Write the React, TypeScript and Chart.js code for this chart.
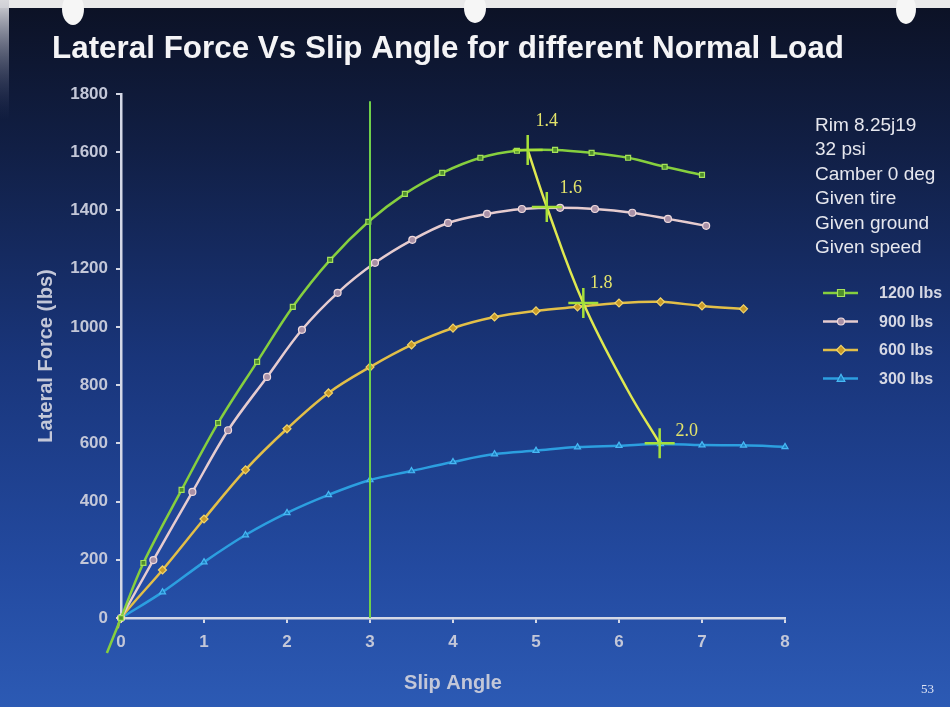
import React, { useEffect, useRef } from "react";
import { Chart, registerables } from "chart.js";

Chart.register(...registerables);

// ---------- data ----------
const seriesLabels = ["1200 lbs", "900 lbs", "600 lbs", "300 lbs"];

const slip1200 = [-0.17, 0, 0.27, 0.73, 1.17, 1.64, 2.07, 2.52, 2.98, 3.42, 3.87, 4.33, 4.77, 5.23, 5.67, 6.11, 6.55, 7.0];
const force1200 = [-120, 0, 189, 440, 670, 880, 1069, 1230, 1361, 1457, 1529, 1581, 1605, 1608, 1598, 1581, 1550, 1522];

const slip900 = [0, 0.39, 0.86, 1.29, 1.76, 2.18, 2.61, 3.06, 3.51, 3.94, 4.41, 4.83, 5.29, 5.71, 6.16, 6.59, 7.05];
const force900 = [0, 199, 433, 645, 828, 990, 1117, 1220, 1299, 1357, 1388, 1405, 1409, 1405, 1392, 1371, 1347];

const slip600 = [-0.04, 0, 0.5, 1, 1.5, 2, 2.5, 3, 3.5, 4, 4.5, 5, 5.5, 6, 6.5, 7, 7.5];
const force600 = [-35, 0, 165, 340, 509, 650, 773, 862, 938, 996, 1034, 1055, 1069, 1082, 1086, 1072, 1062];

const slip300 = [0, 0.5, 1, 1.5, 2, 2.5, 3, 3.5, 4, 4.5, 5, 5.5, 6, 6.5, 7, 7.5, 8];
const force300 = [0, 89, 192, 285, 361, 423, 474, 505, 536, 563, 575, 587, 592, 598, 594, 593, 588];

const refSlip = 3;
const refForceTop = 1775;

const contourSlip = [4.9, 5.13, 5.57, 6.1, 6.49];
const contourForce = [1608, 1412, 1082, 785, 600];

const crossSlip = [4.9, 5.13, 5.57, 6.49];
const crossForce = [1608, 1412, 1082, 600];
const crossLabels = ["1.4", "1.6", "1.8", "2.0"];

const xMin = 0, xMax = 8, xStep = 1;
const yMin = 0, yMax = 1800, yStep = 200;

const titleText = "Lateral Force Vs Slip Angle for different Normal Load";
const xTitle = "Slip Angle";
const yTitle = "Lateral Force (lbs)";
const infoLines = ["Rim 8.25j19", "32 psi", "Camber 0 deg", "Given tire", "Given ground", "Given speed"];
const pageNumber = "53";

// ---------- styles ----------
const SANS = "'Liberation Sans', Arial, sans-serif";
const SERIF = "'Liberation Serif', 'DejaVu Serif', serif";
const seriesStyle = [
  { line: "#86cf3e", fill: "#4f8f2c", border: "#a6e25a", shape: "rect" },
  { line: "#e6cccf", fill: "#a890a6", border: "#f0dadd", shape: "circle" },
  { line: "#e2bf48", fill: "#c89a28", border: "#f2d468", shape: "rectRot" },
  { line: "#2c9fe0", fill: "#1f7fc0", border: "#48b8f4", shape: "triangle" },
];
const tickColor = "#c3c7d8";
const axisColor = "#d4d8e6";

function toPts(xs: number[], ys: number[]) {
  return xs.map((x, i) => ({ x, y: ys[i] }));
}

function drawMarker(ctx: CanvasRenderingContext2D, shape: string, x: number, y: number, r: number) {
  ctx.beginPath();
  if (shape === "rect") {
    ctx.rect(x - r, y - r, 2 * r, 2 * r);
  } else if (shape === "circle") {
    ctx.arc(x, y, r, 0, Math.PI * 2);
  } else if (shape === "rectRot") {
    ctx.moveTo(x, y - r * 1.3);
    ctx.lineTo(x + r * 1.3, y);
    ctx.lineTo(x, y + r * 1.3);
    ctx.lineTo(x - r * 1.3, y);
    ctx.closePath();
  } else {
    ctx.moveTo(x, y - r * 1.2);
    ctx.lineTo(x + r * 1.1, y + r * 0.8);
    ctx.lineTo(x - r * 1.1, y + r * 0.8);
    ctx.closePath();
  }
  ctx.fill();
  ctx.stroke();
}

const backgroundPlugin = {
  id: "slideBackground",
  beforeDraw(chart: any) {
    const { ctx, width, height } = chart;
    ctx.save();
    const g = ctx.createLinearGradient(0, 8, 0, height);
    g.addColorStop(0, "#0c1226");
    g.addColorStop(0.2, "#111f45");
    g.addColorStop(0.5, "#19357a");
    g.addColorStop(0.8, "#234aa0");
    g.addColorStop(1, "#2c5ab4");
    ctx.fillStyle = g;
    ctx.fillRect(0, 0, width, height);
    // paper edge
    ctx.fillStyle = "#e9e9ea";
    ctx.fillRect(0, 0, width, 8);
    const lg = ctx.createLinearGradient(0, 0, 0, 120);
    lg.addColorStop(0, "#d8d8dc");
    lg.addColorStop(1, "rgba(60,70,110,0)");
    ctx.fillStyle = lg;
    ctx.fillRect(0, 0, 9, 120);
    // binder holes
    ctx.fillStyle = "#f6f6f6";
    [[73, 9, 11, 16], [475, 8, 11, 15], [906, 9, 10, 15]].forEach(([cx, cy, rx, ry]) => {
      ctx.beginPath();
      ctx.ellipse(cx, cy, rx, ry, 0, 0, Math.PI * 2);
      ctx.fill();
    });
    // title
    ctx.fillStyle = "#f4f4f6";
    ctx.font = `bold 31.4px ${SANS}`;
    ctx.textBaseline = "alphabetic";
    ctx.textAlign = "left";
    ctx.fillText(titleText, 52, 58);
    // info text
    ctx.fillStyle = "#e6e7ee";
    ctx.font = `19px ${SANS}`;
    infoLines.forEach((t, i) => ctx.fillText(t, 815, 131 + i * 24.4));
    // page number
    ctx.fillStyle = "#dfe4f4";
    ctx.font = `13px ${SERIF}`;
    ctx.fillText(pageNumber, 921, 693);
    ctx.restore();
  },
  afterDraw(chart: any) {
    const { ctx } = chart;
    ctx.save();
    // legend
    seriesLabels.forEach((label, i) => {
      const st = seriesStyle[i];
      const y = 293 + i * 28.5;
      ctx.strokeStyle = st.line;
      ctx.lineWidth = 2.5;
      ctx.beginPath();
      ctx.moveTo(823, y);
      ctx.lineTo(858, y);
      ctx.stroke();
      ctx.fillStyle = st.fill;
      ctx.strokeStyle = st.border;
      ctx.lineWidth = 1.2;
      drawMarker(ctx, st.shape, 841, y, 3.5);
      ctx.fillStyle = "#d6d8e4";
      ctx.font = `bold 16px ${SANS}`;
      ctx.textAlign = "left";
      ctx.textBaseline = "middle";
      ctx.fillText(label, 879, y + 1);
    });
    // contour labels
    const xs = chart.scales.x;
    const ys = chart.scales.y;
    const offs = [[19, -29], [24, -19], [18, -20], [27, -12]];
    ctx.fillStyle = "#e4e46a";
    ctx.font = `18px ${SERIF}`;
    ctx.textAlign = "center";
    ctx.textBaseline = "middle";
    crossLabels.forEach((t, i) => {
      const px = xs.getPixelForValue(crossSlip[i]);
      const py = ys.getPixelForValue(crossForce[i]);
      ctx.fillText(t, px + offs[i][0], py + offs[i][1]);
    });
    ctx.restore();
  },
};

export default function App() {
  const ref = useRef<HTMLCanvasElement | null>(null);

  useEffect(() => {
    if (!ref.current) return;
    const seriesX = [slip1200, slip900, slip600, slip300];
    const seriesY = [force1200, force900, force600, force300];
    const seriesDatasets = seriesLabels.map((label, i) => {
      const st = seriesStyle[i];
      const xsArr = seriesX[i];
      return {
        label,
        data: toPts(xsArr, seriesY[i]),
        borderColor: st.line,
        backgroundColor: st.fill,
        pointBackgroundColor: st.fill,
        pointBorderColor: st.border,
        pointBorderWidth: 1.2,
        pointStyle: st.shape,
        pointRadius: (c: any) => (xsArr[c.dataIndex] < 0 ? 0 : st.shape === "rectRot" ? 4 : 3.5),
        borderWidth: 2.5,
        tension: 0.35,
        clip: false as any,
        order: 3 + i,
      };
    });

    const chart = new Chart(ref.current, {
      type: "line",
      data: {
        datasets: [
          {
            label: "contour",
            data: toPts(contourSlip, contourForce),
            borderColor: "#dfe850",
            borderWidth: 2.5,
            pointRadius: 0,
            tension: 0.4,
            clip: false as any,
            order: 1,
          },
          {
            label: "cross",
            data: toPts(crossSlip, crossForce),
            showLine: false,
            pointStyle: "cross",
            pointRadius: 15,
            pointBorderWidth: 2.5,
            pointBorderColor: "#a6e03a",
            pointBackgroundColor: "#a6e03a",
            clip: false as any,
            order: 0,
          },
          ...seriesDatasets,
          {
            label: "ref",
            data: [
              { x: refSlip, y: 0 },
              { x: refSlip, y: refForceTop },
            ],
            borderColor: "#6fd04a",
            borderWidth: 2,
            pointRadius: 0,
            clip: false as any,
            order: 2,
          },
        ] as any,
      },
      options: {
        animation: false,
        responsive: false,
        devicePixelRatio: 1,
        layout: { padding: { top: 94, right: 165, bottom: 0, left: 0 } },
        plugins: {
          legend: { display: false },
          tooltip: { enabled: false },
          title: { display: false },
        },
        scales: {
          x: {
            type: "linear",
            min: xMin,
            max: xMax,
            ticks: {
              stepSize: xStep,
              color: tickColor,
              font: { family: SANS, size: 17, weight: "bold" },
              padding: 9,
              callback: (v: any) => String(v),
            },
            grid: { drawOnChartArea: false, drawTicks: true, tickLength: 5, color: axisColor, lineWidth: 2 },
            border: { display: true, color: axisColor, width: 2.5 },
            title: {
              display: true,
              text: xTitle,
              color: tickColor,
              font: { family: SANS, size: 20, weight: "bold" },
              padding: { top: 0, bottom: 12 },
            },
            afterFit: (s: any) => {
              s.height = 89;
            },
          },
          y: {
            type: "linear",
            min: yMin,
            max: yMax,
            ticks: {
              stepSize: yStep,
              color: tickColor,
              font: { family: SANS, size: 17, weight: "bold" },
              padding: 8,
              callback: (v: any) => String(v),
            },
            grid: { drawOnChartArea: false, drawTicks: true, tickLength: 5, color: axisColor, lineWidth: 2 },
            border: { display: true, color: axisColor, width: 2.5 },
            title: {
              display: true,
              text: yTitle,
              color: tickColor,
              font: { family: SANS, size: 20, weight: "bold" },
              padding: { top: 34, bottom: 0 },
            },
            afterFit: (s: any) => {
              s.width = 121;
            },
          },
        },
      },
      plugins: [backgroundPlugin],
    } as any);
    return () => chart.destroy();
  }, []);

  return (
    <div style={{ position: "absolute", left: 0, top: 0, width: 950, height: 707 }}>
      <canvas ref={ref} width={950} height={707} style={{ display: "block", width: 950, height: 707 }} />
    </div>
  );
}
